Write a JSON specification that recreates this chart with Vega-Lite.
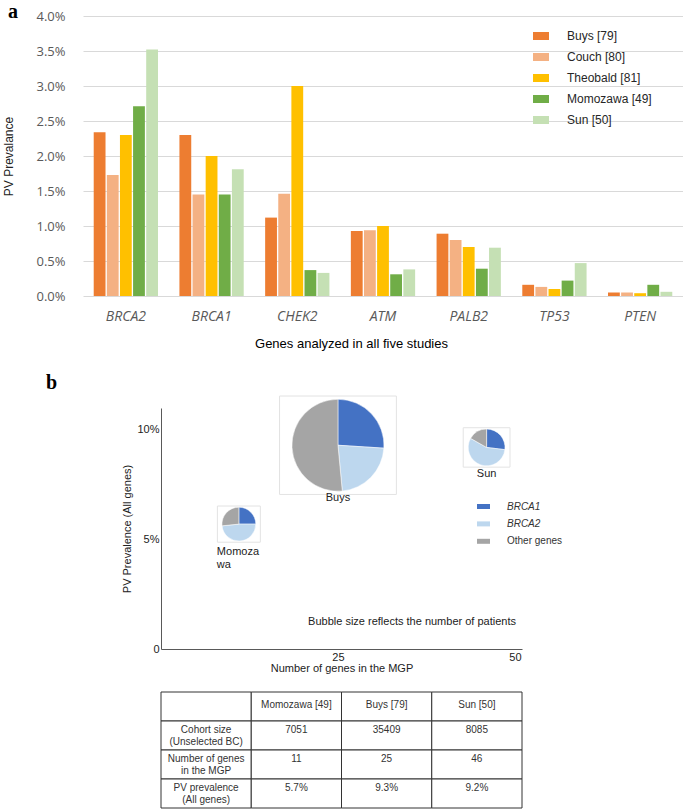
{
  "$schema": "https://vega.github.io/schema/vega-lite/v6.json",
  "padding": {"left": 2, "top": 2, "right": 0, "bottom": 2},
  "title": {"text": "a", "anchor": "start", "frame": "bounds", "font": "Liberation Serif", "fontSize": 20, "fontWeight": "bold", "color": "#000", "dx": 5, "offset": -28, "baseline": "alphabetic"},
  "center": true,
  "spacing": 1,
  "resolve": {"scale": {"color": "independent"}, "legend": {"color": "independent"}},
  "config": {"view": {"stroke": null}, "font": "Liberation Sans"},
  "datasets": {
    "genes": [
      {"gene": "BRCA2", "study": "Buys [79]", "pv": 2.34},
      {"gene": "BRCA2", "study": "Couch [80]", "pv": 1.73},
      {"gene": "BRCA2", "study": "Theobald [81]", "pv": 2.30},
      {"gene": "BRCA2", "study": "Momozawa [49]", "pv": 2.71},
      {"gene": "BRCA2", "study": "Sun [50]", "pv": 3.52},
      {"gene": "BRCA1", "study": "Buys [79]", "pv": 2.30},
      {"gene": "BRCA1", "study": "Couch [80]", "pv": 1.45},
      {"gene": "BRCA1", "study": "Theobald [81]", "pv": 2.00},
      {"gene": "BRCA1", "study": "Momozawa [49]", "pv": 1.45},
      {"gene": "BRCA1", "study": "Sun [50]", "pv": 1.81},
      {"gene": "CHEK2", "study": "Buys [79]", "pv": 1.12},
      {"gene": "CHEK2", "study": "Couch [80]", "pv": 1.46},
      {"gene": "CHEK2", "study": "Theobald [81]", "pv": 3.00},
      {"gene": "CHEK2", "study": "Momozawa [49]", "pv": 0.37},
      {"gene": "CHEK2", "study": "Sun [50]", "pv": 0.33},
      {"gene": "ATM", "study": "Buys [79]", "pv": 0.93},
      {"gene": "ATM", "study": "Couch [80]", "pv": 0.94},
      {"gene": "ATM", "study": "Theobald [81]", "pv": 1.00},
      {"gene": "ATM", "study": "Momozawa [49]", "pv": 0.31},
      {"gene": "ATM", "study": "Sun [50]", "pv": 0.38},
      {"gene": "PALB2", "study": "Buys [79]", "pv": 0.89},
      {"gene": "PALB2", "study": "Couch [80]", "pv": 0.80},
      {"gene": "PALB2", "study": "Theobald [81]", "pv": 0.70},
      {"gene": "PALB2", "study": "Momozawa [49]", "pv": 0.39},
      {"gene": "PALB2", "study": "Sun [50]", "pv": 0.69},
      {"gene": "TP53", "study": "Buys [79]", "pv": 0.16},
      {"gene": "TP53", "study": "Couch [80]", "pv": 0.13},
      {"gene": "TP53", "study": "Theobald [81]", "pv": 0.10},
      {"gene": "TP53", "study": "Momozawa [49]", "pv": 0.22},
      {"gene": "TP53", "study": "Sun [50]", "pv": 0.47},
      {"gene": "PTEN", "study": "Buys [79]", "pv": 0.05},
      {"gene": "PTEN", "study": "Couch [80]", "pv": 0.05},
      {"gene": "PTEN", "study": "Theobald [81]", "pv": 0.04},
      {"gene": "PTEN", "study": "Momozawa [49]", "pv": 0.16},
      {"gene": "PTEN", "study": "Sun [50]", "pv": 0.06}
    ],
    "studies": [
      {"study": "Momozawa", "genes": 11, "pv": 5.7, "cohort": 7051, "label": "Momoza\nwa"},
      {"study": "Buys", "genes": 25, "pv": 9.3, "cohort": 35409, "label": "Buys"},
      {"study": "Sun", "genes": 46, "pv": 9.2, "cohort": 8085, "label": "Sun"}
    ],
    "pies": [
      {"study": "Momozawa", "genes": 11, "pv": 5.7, "cohort": 7051, "gene": "BRCA1", "share": 25},
      {"study": "Momozawa", "genes": 11, "pv": 5.7, "cohort": 7051, "gene": "BRCA2", "share": 48.4},
      {"study": "Momozawa", "genes": 11, "pv": 5.7, "cohort": 7051, "gene": "Other genes", "share": 26.6},
      {"study": "Buys", "genes": 25, "pv": 9.3, "cohort": 35409, "gene": "BRCA1", "share": 26},
      {"study": "Buys", "genes": 25, "pv": 9.3, "cohort": 35409, "gene": "BRCA2", "share": 22.5},
      {"study": "Buys", "genes": 25, "pv": 9.3, "cohort": 35409, "gene": "Other genes", "share": 51.5},
      {"study": "Sun", "genes": 46, "pv": 9.2, "cohort": 8085, "gene": "BRCA1", "share": 26.9},
      {"study": "Sun", "genes": 46, "pv": 9.2, "cohort": 8085, "gene": "BRCA2", "share": 56.3},
      {"study": "Sun", "genes": 46, "pv": 9.2, "cohort": 8085, "gene": "Other genes", "share": 16.8}
    ],
    "table": [
      {"row": "Study", "col": "Item", "text": ""},
      {"row": "Study", "col": "Momozawa", "text": "Momozawa [49]"},
      {"row": "Study", "col": "Buys", "text": "Buys [79]"},
      {"row": "Study", "col": "Sun", "text": "Sun [50]"},
      {"row": "Cohort size", "col": "Item", "text": "Cohort size\n(Unselected BC)"},
      {"row": "Cohort size", "col": "Momozawa", "text": "7051"},
      {"row": "Cohort size", "col": "Buys", "text": "35409"},
      {"row": "Cohort size", "col": "Sun", "text": "8085"},
      {"row": "Number of genes", "col": "Item", "text": "Number of genes\nin the MGP"},
      {"row": "Number of genes", "col": "Momozawa", "text": "11"},
      {"row": "Number of genes", "col": "Buys", "text": "25"},
      {"row": "Number of genes", "col": "Sun", "text": "46"},
      {"row": "PV prevalence", "col": "Item", "text": "PV prevalence\n(All genes)"},
      {"row": "PV prevalence", "col": "Momozawa", "text": "5.7%"},
      {"row": "PV prevalence", "col": "Buys", "text": "9.3%"},
      {"row": "PV prevalence", "col": "Sun", "text": "9.2%"}
    ]
  },
  "vconcat": [
    {
      "width": 600,
      "height": 280,
      "title": {"text": "b", "orient": "bottom", "anchor": "start", "frame": "bounds", "font": "Liberation Serif", "fontSize": 20, "fontWeight": "bold", "color": "#000", "dx": 43, "offset": 23},
      "data": {"name": "genes"},
      "mark": {"type": "bar"},
      "encoding": {
        "x": {
          "field": "gene", "type": "nominal",
          "sort": ["BRCA2", "BRCA1", "CHEK2", "ATM", "PALB2", "TP53", "PTEN"],
          "scale": {"paddingInner": 0.25, "paddingOuter": 0.125},
          "axis": {"title": "Genes analyzed in all five studies", "labelAngle": 0, "labelFont": "Open Sans", "labelFontSize": 14, "labelFontStyle": "italic", "labelColor": "#595959", "ticks": false, "tickSize": 0, "domain": false, "labelPadding": 13, "titleFont": "Liberation Sans", "titleFontSize": 13, "titleFontWeight": "normal", "titleColor": "#000", "titlePadding": 14, "titleX": 268}
        },
        "xOffset": {"field": "study", "type": "nominal", "sort": ["Buys [79]", "Couch [80]", "Theobald [81]", "Momozawa [49]", "Sun [50]"], "scale": {"paddingInner": 0.1, "paddingOuter": 0}},
        "y": {
          "field": "pv", "type": "quantitative",
          "scale": {"domain": [0, 4], "nice": false},
          "axis": {"title": "PV Prevalance", "values": [0, 0.5, 1, 1.5, 2, 2.5, 3, 3.5, 4], "labelExpr": "format(datum.value, '.1f') + '%'", "ticks": false, "tickSize": 0, "domain": false, "gridColor": "#D9D9D9", "labelFont": "Open Sans", "labelFontSize": 13, "labelColor": "#595959", "labelPadding": 18, "titleFont": "Liberation Sans", "titleFontSize": 12, "titleFontWeight": "normal", "titleColor": "#222", "titlePadding": 20}
        },
        "color": {
          "field": "study", "type": "nominal",
          "scale": {"domain": ["Buys [79]", "Couch [80]", "Theobald [81]", "Momozawa [49]", "Sun [50]"], "range": ["#ED7D31", "#F4B183", "#FFC000", "#70AD47", "#C5E0B4"]},
          "legend": {"title": null, "orient": "none", "legendX": 450, "legendY": 12, "padding": 0, "symbolType": "M-1,-0.5H1V0.5H-1Z", "symbolSize": 256, "symbolStrokeWidth": 0, "labelFont": "Liberation Sans", "labelFontSize": 12, "labelColor": "#262626", "labelOffset": 18, "rowPadding": 7}
        }
      }
    },
    {
      "bounds": "flush",
      "spacing": 43,
      "vconcat": [
        {
          "width": 361,
          "height": 241,
          "title": {"text": "Bubble size reflects the number of patients", "orient": "bottom", "anchor": "end", "frame": "group", "fontSize": 11, "fontWeight": "normal", "font": "Liberation Sans", "color": "#222", "offset": -57, "dx": -6},
          "data": {"name": "studies"},
          "encoding": {
            "x": {"field": "genes", "type": "quantitative", "scale": {"domain": [0, 51], "nice": false}, "axis": {"title": "Number of genes in the MGP", "values": [25, 50], "grid": false, "ticks": false, "tickSize": 0, "domainColor": "#595959", "labelFontSize": 11, "labelColor": "#222", "labelPadding": 2, "titleFontSize": 11, "titleFontWeight": "normal", "titleColor": "#222", "titlePadding": 0}},
            "y": {"field": "pv", "type": "quantitative", "scale": {"domain": [0, 11], "nice": false}, "axis": {"title": "PV Prevalence (All genes)", "values": [0, 5, 10], "labelExpr": "datum.value == 0 ? '0' : datum.value + '%'", "grid": false, "ticks": false, "tickSize": 0, "domainColor": "#595959", "labelFontSize": 11, "labelColor": "#222", "labelPadding": 2, "titleFontSize": 11, "titleFontWeight": "normal", "titleColor": "#222", "titlePadding": 4}}
          },
          "layer": [
            {
              "mark": {"type": "point", "shape": "M-1.27,-1.07H1.27V1.07H-1.27Z", "filled": true, "fill": "white", "stroke": "#E3E3E3", "strokeWidth": 1, "opacity": 1},
              "encoding": {
                "size": {"field": "cohort", "type": "quantitative", "scale": {"type": "pow", "exponent": 1.24, "domain": [0, 35409], "range": [0, 8464]}, "legend": null}
              }
            },
            {
              "data": {"name": "pies"},
              "transform": [{"stack": "share", "groupby": ["study"], "sort": [{"field": "gene", "order": "ascending"}], "as": ["t0", "t1"]}],
              "mark": {"type": "arc", "stroke": "white", "strokeWidth": 0.5},
              "encoding": {
                "theta": {"field": "t0", "type": "quantitative", "scale": {"domain": [0, 100]}},
                "theta2": {"field": "t1"},
                "radius": {"field": "cohort", "type": "quantitative", "scale": {"type": "pow", "exponent": 0.62, "domain": [0, 35409], "range": [0, 46]}},
                "color": {
                  "field": "gene", "type": "nominal",
                  "scale": {"domain": ["BRCA1", "BRCA2", "Other genes"], "range": ["#4472C4", "#BDD7EE", "#A5A5A5"]},
                  "legend": {"title": null, "orient": "none", "legendX": 274, "legendY": 50, "padding": 42, "symbolType": "M-1,-0.385H1V0.385H-1Z", "symbolSize": 169, "symbolStrokeWidth": 0, "labelFontSize": 10, "labelColor": "#333", "labelOffset": 17, "rowPadding": 5.4, "labelFontStyle": {"expr": "datum.value == 'Other genes' ? 'normal' : 'italic'"}}
                }
              }
            },
            {
              "transform": [{"filter": "datum.study == 'Buys'"}],
              "mark": {"type": "text", "baseline": "top", "fontSize": 11, "color": "#222", "dy": 47},
              "encoding": {"text": {"field": "label"}}
            },
            {
              "transform": [{"filter": "datum.study == 'Sun'"}],
              "mark": {"type": "text", "baseline": "top", "fontSize": 11, "color": "#222", "dy": 21},
              "encoding": {"text": {"field": "label"}}
            },
            {
              "transform": [{"filter": "datum.study == 'Momozawa'"}],
              "mark": {"type": "text", "baseline": "top", "align": "left", "fontSize": 11, "color": "#222", "dy": 22, "dx": -22, "lineBreak": "\n"},
              "encoding": {"text": {"field": "label"}}
            }
          ]
        },
        {
          "width": 361,
          "height": 116,
          "data": {"name": "table"},
          "encoding": {
            "x": {"field": "col", "type": "nominal", "sort": ["Item", "Momozawa", "Buys", "Sun"], "axis": null, "scale": {"paddingInner": 0, "paddingOuter": 0}},
            "y": {"field": "row", "type": "nominal", "sort": ["Study", "Cohort size", "Number of genes", "PV prevalence"], "axis": null, "scale": {"paddingInner": 0, "paddingOuter": 0}}
          },
          "layer": [
            {"mark": {"type": "rect", "fill": "white", "stroke": "#333", "strokeWidth": 1}},
            {
              "transform": [{"filter": "datum.row == 'Study'"}],
              "mark": {"type": "text", "fontSize": 10, "color": "#333", "baseline": "middle", "dy": -2},
              "encoding": {"text": {"field": "text"}}
            },
            {
              "transform": [{"filter": "datum.row != 'Study'"}],
              "mark": {"type": "text", "fontSize": 10, "color": "#333", "baseline": "middle", "dy": -6, "lineBreak": "\n"},
              "encoding": {"text": {"field": "text"}}
            }
          ]
        }
      ]
    }
  ]
}
